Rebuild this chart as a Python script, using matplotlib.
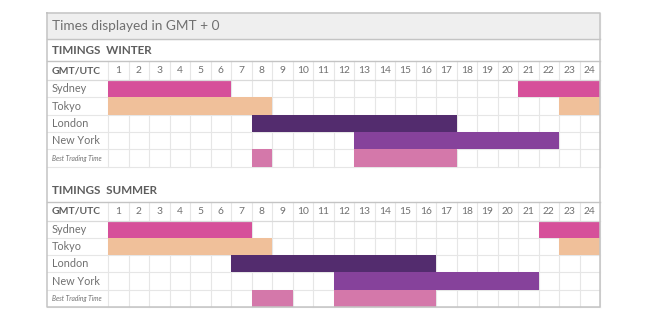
import matplotlib
matplotlib.use("Agg")
import matplotlib.pyplot as plt

# Datos: sesiones de mercado (hora inicio, hora fin) en GMT, por temporada
hours = list(range(1, 25))
markets = ["Sydney", "Tokyo", "London", "New York", "Best Trading Time"]
market_colors = ["#d6509a", "#f0c09a", "#532c6e", "#86429b", "#d478aa"]

winter_sessions = [
    [(1, 6), (21, 24)],
    [(1, 8), (23, 24)],
    [(8, 17)],
    [(13, 22)],
    [(8, 8), (13, 17)],
]
summer_sessions = [
    [(1, 7), (22, 24)],
    [(1, 8), (23, 24)],
    [(7, 16)],
    [(12, 21)],
    [(8, 9), (12, 16)],
]

plt.rcParams['font.family'] = ['Lato', 'DejaVu Sans']

fig = plt.figure(figsize=(6.48, 3.24), dpi=100)
ax = fig.add_axes([0, 0, 1, 1])
# eje x en horas (20.5 px por hora, hora 0 en px 108), eje y en pixeles
px_per_h = 20.5
x0 = 108
ax.set_xlim(-x0 / px_per_h, (648 - x0) / px_per_h)
ax.set_ylim(324, 0)
ax.axis("off")

def px(x):
    return (x - x0) / px_per_h

frame = "#c4c4c4"
grid = "#e6e6e6"
txt = "#707070"
bold_txt = "#5e5e5e"

left, right = px(47), px(600)
top, bottom = 13, 307

# Banda del titulo
ax.fill_between([left, right], top, 39, color="#efefef", zorder=0)
ax.text(px(52), 26.5, "Times displayed in GMT + 0", fontsize=9.8, color=txt,
        va="center", ha="left")


def draw_table(title_y, header_top, sessions, title):
    ax.text(px(52), title_y, title, fontsize=8.4, fontweight="bold",
            color=bold_txt, va="center", ha="left")
    hdr_bottom = header_top + 19
    rows_top = [hdr_bottom + i * 17.3 for i in range(len(markets))]
    tbl_bottom = hdr_bottom + len(markets) * 17.3

    # barras
    for i, segs in enumerate(sessions):
        for s, e in segs:
            ax.barh(rows_top[i], e - s + 1, left=s - 1, height=17.3,
                    align="edge", color=market_colors[i], zorder=2,
                    linewidth=0)

    # rejilla
    for h in range(0, 25):
        ax.plot([h, h], [header_top, tbl_bottom], color=grid, lw=0.8, zorder=1)
    for y in rows_top[1:] + [tbl_bottom]:
        ax.plot([left, right], [y, y], color=grid, lw=0.8, zorder=1)
    ax.plot([left, right], [header_top, header_top], color=frame, lw=1, zorder=3)
    ax.plot([left, right], [hdr_bottom, hdr_bottom], color="#dadada", lw=0.9, zorder=3)

    # encabezados
    ax.text(px(52), header_top + 9.5, "GMT/UTC", fontsize=7.5, fontweight="bold",
            color=bold_txt, va="center", ha="left")
    for h in hours:
        ax.text(h - 0.5, header_top + 9.5, str(h), fontsize=7.4, color=txt,
                va="center", ha="center")
    for i, m in enumerate(markets):
        if m == "Best Trading Time":
            ax.text(px(52), rows_top[i] + 8.8, m, fontsize=4.8, style="italic",
                    color=txt, va="center", ha="left")
        else:
            ax.text(px(52), rows_top[i] + 8.8, m, fontsize=7.8, color=txt,
                    va="center", ha="left")
    return tbl_bottom


draw_table(50, 61, winter_sessions, "TIMINGS  WINTER")
draw_table(190.5, 201.5, summer_sessions, "TIMINGS  SUMMER")

# Marco exterior
ax.plot([left, right], [39, 39], color=frame, lw=1, zorder=3)
ax.plot([left, right, right, left, left], [top, top, bottom, bottom, top],
        color=frame, lw=1.1, zorder=4)

fig.savefig("out.png", dpi=100)
